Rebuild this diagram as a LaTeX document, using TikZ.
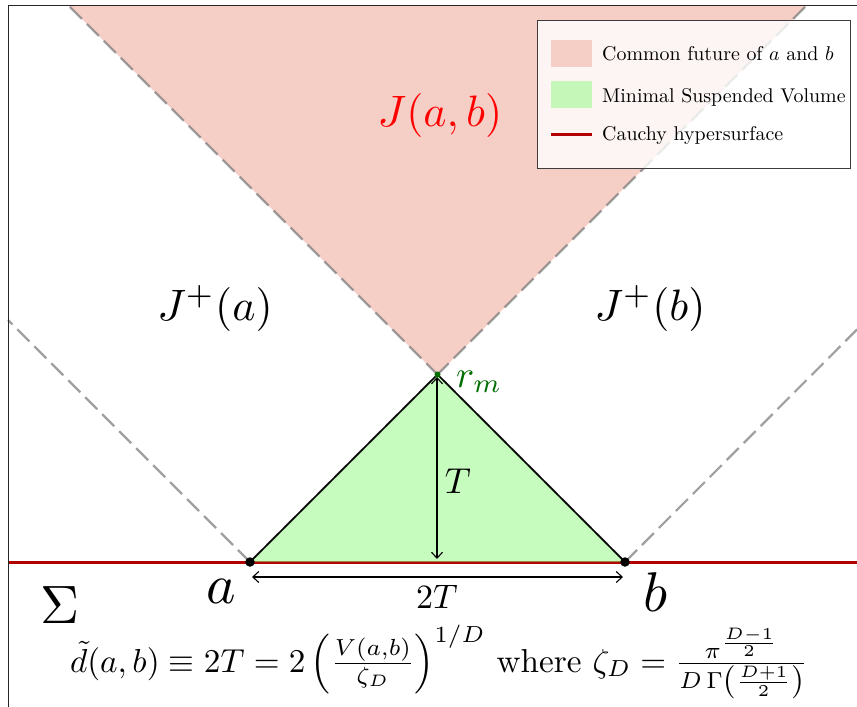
\documentclass[tikz,border=0pt]{standalone}
\usepackage{amsmath}
\usetikzlibrary{arrows.meta}
\definecolor{pinkfill}{RGB}{245,206,197}
\definecolor{greenfill}{RGB}{143,249,127}
\definecolor{cauchy}{RGB}{178,0,0}
\definecolor{rmgreen}{RGB}{0,110,0}
\definecolor{legendedge}{RGB}{60,60,60}
\tikzset{
  cone/.style={draw=gray, line width=2.2pt, dash pattern=on 17pt off 7pt, draw opacity=0.75},
  spine/.style={draw=black!85, line width=1pt},
  dot/.style={circle, fill=black, inner sep=0pt, minimum size=9.5pt},
  dimarrow/.style={line width=1.1pt, {Straight Barb[length=6pt,width=11pt]}-{Straight Barb[length=6pt,width=11pt]}},
  legtext/.style={anchor=base west, inner sep=0pt},
  lbl/.style={anchor=base, inner sep=0pt},
}
\newcommand{\sz}[2]{\scalebox{#1}{#2}}
\begin{document}
\begin{tikzpicture}[x=1pt,y=-1pt]
\useasboundingbox (0,0) rectangle (857,707);
% key points
\coordinate (a) at (250,562);
\coordinate (b) at (625,562);
\coordinate (rm) at (437.5,374.5);
\coordinate (ltop) at (68,5);
\coordinate (rtop) at (807,5);
\coordinate (aleft) at (8,320);
\coordinate (bright) at (857,329.5);
\coordinate (sigL) at (8,562);
\coordinate (sigR) at (857,562);
% common future
\fill[pinkfill] (rm) -- (ltop) -- (rtop) -- cycle;
% light cones
\draw[cone] (a) -- (aleft);
\draw[cone] (a) -- (rtop);
\draw[cone] (b) -- (ltop);
\draw[cone] (b) -- (bright);
% Cauchy surface
\draw[cauchy, line width=3pt] (sigL) -- (sigR);
% minimal suspended volume
\fill[greenfill, fill opacity=0.5] (a) -- (rm) -- (b) -- cycle;
\draw[black, line width=1.6pt] (a) -- (rm) -- (b);
% points
\node[dot] (pa) at (a) {};
\node[dot] (pb) at (b) {};
\node[circle, fill=rmgreen, inner sep=0pt, minimum size=6pt] (prm) at (rm) {};
% dimension arrows
\coordinate (tTop) at (437,377);
\coordinate (tBot) at (437,559);
\draw[dimarrow] (tTop) -- (tBot);
\coordinate (hL) at (252,577);
\coordinate (hR) at (623,577);
\draw[dimarrow] (hL) -- (hR);
% spines
\draw[spine] (8,707) -- (8,5) -- (857,5);
% labels
\node[lbl, text=red] (Jab) at (440,126) {\sz{4.4}{$J(a,b)$}};
\node[lbl] (Ja) at (215,320) {\sz{4.4}{$J^+(a)$}};
\node[lbl] (Jb) at (650,320) {\sz{4.4}{$J^+(b)$}};
\node[anchor=base west, inner sep=0pt, text=rmgreen] (rml) at (456,387) {\sz{3.8}{$r_m$}};
\node[lbl] (Tl) at (458,493) {\sz{3.6}{$T$}};
\node[lbl] (T2l) at (437,608) {\sz{3.4}{$2T$}};
\node[lbl] (al) at (221,603) {\sz{5.6}{$a$}};
\node[lbl] (bl) at (656,611) {\sz{5.6}{$b$}};
\node[lbl] (sig) at (60,623) {\sz{5.4}{$\Sigma$}};
\node[lbl] (formula) at (439,672)
  {\sz{3.32}{$\tilde{d}(a,b) \equiv 2T = 2\left(\frac{V(a,b)}{\zeta_D}\right)^{1/D}$ where $\zeta_D = \frac{\pi^{\frac{D-1}{2}}}{D\,\Gamma\left(\frac{D+1}{2}\right)}$}};
% legend
\node[draw=legendedge, line width=0.9pt, fill=white, fill opacity=0.8, minimum width=313pt, minimum height=148pt, inner sep=0pt, anchor=north west] (legend) at (537,20) {};
\fill[pinkfill] (551,40) rectangle (592,67);
\fill[greenfill, fill opacity=0.5] (551,81) rectangle (592,108);
\draw[cauchy, line width=3pt] (551,134) -- (592,134);
\node[legtext] (l1) at (602,60) {\sz{1.99}{Common future of $a$ and $b$}};
\node[legtext] (l2) at (602,102) {\sz{1.99}{Minimal Suspended Volume}};
\node[legtext] (l3) at (602,140) {\sz{1.99}{Cauchy hypersurface}};
\end{tikzpicture}
\end{document}
